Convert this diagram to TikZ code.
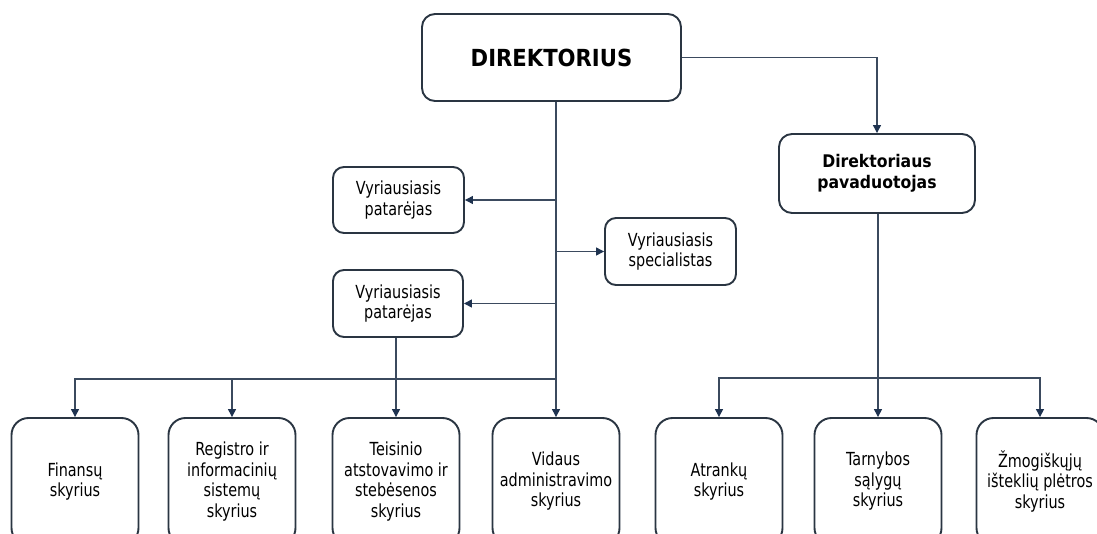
\documentclass[tikz,border=0pt]{standalone}
\usepackage{fontspec}
\setmainfont{DejaVu Sans}[FakeStretch=0.8]
\newfontfamily\headfam{DejaVu Sans}[FakeStretch=0.9]
\usetikzlibrary{arrows.meta,positioning,calc}
\definecolor{boxline}{HTML}{2A3542}
\definecolor{connline}{HTML}{3B4A5E}
\definecolor{tipfill}{HTML}{1F3350}
\tikzset{
  box/.style={draw=boxline, line width=1.9pt, fill=white, rounded corners=11pt, inner sep=0pt, align=center,
    font=\fontsize{18}{20.5}\selectfont},
  unitbox/.style={box, minimum width=127pt, minimum height=127pt, rounded corners=17pt},
  conn/.style={draw=connline, line width=1.3pt},
  tip/.style={-{Triangle[length=8pt,width=8pt,fill=tipfill,color=tipfill]}},
  bitip/.style={{Triangle[length=8pt,width=8pt,fill=tipfill,color=tipfill]}-{Triangle[length=8pt,width=8pt,fill=tipfill,color=tipfill]}}
}
\begin{document}
\begin{tikzpicture}[x=1pt,y=-1pt]
\useasboundingbox (0,0) rectangle (1097,533);
\fill[white] (0,0) rectangle (1097,533);
\clip (0,0) rectangle (1097,533);

% top level
\node[box, minimum width=259pt, minimum height=87pt, rounded corners=13pt,
      font=\headfam\fontsize{23.5}{28}\selectfont\bfseries] (dir) at (551.5,57.5) {DIREKTORIUS};
\node[box, minimum width=196pt, minimum height=79pt, rounded corners=13pt,
      font=\headfam\fontsize{17.4}{21}\selectfont\bfseries] (dep) at (877,173.5) {Direktoriaus\\pavaduotojas};

% staff
\node[box, minimum width=131pt, minimum height=66pt] (vp1) at (398.5,200) {Vyriausiasis\\patarėjas};
\node[box, minimum width=131pt, minimum height=67pt] (vs) at (670.5,251.5) {Vyriausiasis\\specialistas};
\node[box, minimum width=130pt, minimum height=67pt] (vp2) at (398,303.5) {Vyriausiasis\\patarėjas};

% units
\node[unitbox] (fin) at (75,481.5) {Finansų\\skyrius};
\node[unitbox] (reg) at (232,481.5) {Registro ir\\informacinių\\sistemų\\skyrius};
\node[unitbox] (tei) at (396,481.5) {Teisinio\\atstovavimo ir\\stebėsenos\\skyrius};
\node[unitbox] (vid) at (556,481.5) {Vidaus\\administravimo\\skyrius};
\node[unitbox] (atr) at (719,481.5) {Atrankų\\skyrius};
\node[unitbox] (tar) at (878,481.5) {Tarnybos\\sąlygų\\skyrius};
\node[unitbox] (zmo) at (1040,481.5) {Žmogiškųjų\\išteklių plėtros\\skyrius};

\coordinate (busL) at (556,379);
\coordinate (busR) at (878,378);

% trunk
\draw[conn, tip] (dir.south -| vid) -- (vid.north);
\draw[conn, tip] (vp1.east -| vid) -- (vp1.east);
\draw[conn, tip] (vs.west -| vid) -- (vs.west);
\draw[conn, tip] (vp2.east -| vid) -- (vp2.east);

% left bus
\draw[conn, tip] (busL) -| (fin.north);
\draw[conn, tip] (reg |- busL) -- (reg.north);
\draw[conn, tip] (vp2.south -| tei) -- (tei.north);

% right branch
\draw[conn, tip] (dir.east) -| (dep.north);
\draw[conn, tip] (dep.south -| tar) -- (tar.north);
\draw[conn, bitip] (atr.north) |- (busR) -| (zmo.north);
\end{tikzpicture}
\end{document}
